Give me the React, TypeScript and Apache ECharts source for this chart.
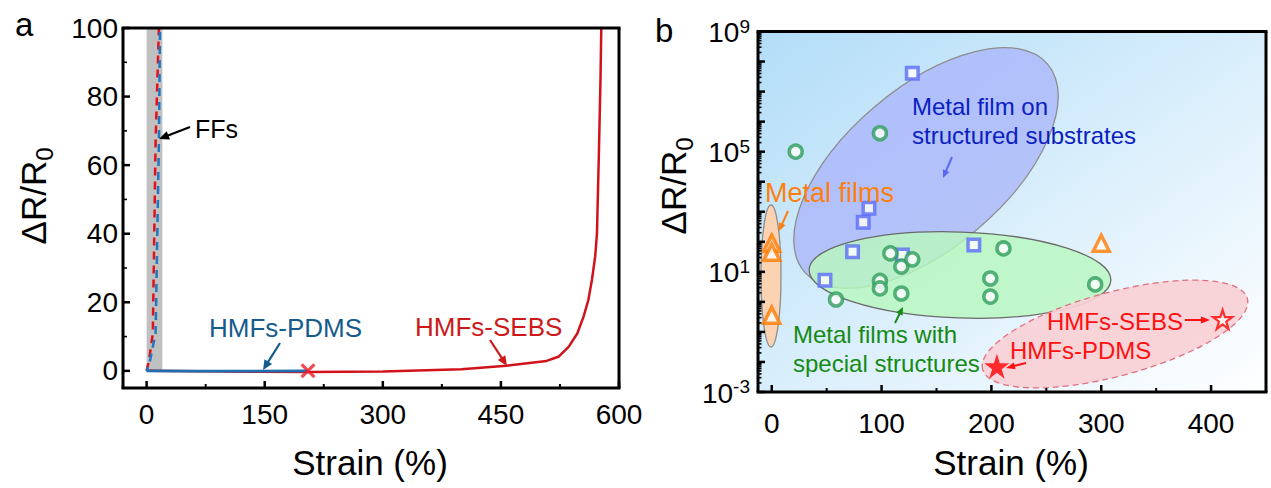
import React, { useEffect, useRef } from "react";
import * as echarts from "echarts";

const FONT = "'Liberation Sans', Arial, Helvetica, sans-serif";

// ---------- Panel a data ----------
const aXTicks = [0, 150, 300, 450, 600];
const aXMinor = [75, 225, 375, 525];
const aYTicks = [0, 20, 40, 60, 80, 100];
const aYMinor = [10, 30, 50, 70, 90];
const ffsBand = [0, 20];
const ffsSebs = [[0, 0], [3, 3], [7.9, 11], [11.4, 67], [15.6, 100]];
const ffsPdms = [[0, 0], [4, 2.6], [11.4, 11], [15.6, 67], [17, 100]];
const hmfsPdms = [[0, 0], [60, -0.1], [120, -0.1], [205, 0]];
const hmfsSebs = [
  [0, 0], [100, -0.2], [205, -0.3], [300, -0.2], [400, 0.5], [457, 1.5], [508, 2.9],
  [523, 4.1], [536, 7], [547, 10.9], [555, 15.8], [561, 20.6], [565.6, 26.5],
  [569.7, 33.3], [572, 40], [574.5, 64], [576.5, 85], [577.5, 100],
];
const pdmsBreak = [[205, 0]];

// ---------- Panel b data ----------
const bXTicks = [0, 100, 200, 300, 400];
const bXMinor = [50, 150, 250, 350];
const bYLabelExp = [-3, 1, 5, 9];
const bYDecades = [-3, -2, -1, 0, 1, 2, 3, 4, 5, 6, 7, 8, 9];
const squaresB = [[128, 4.1e7], [88.5, 1.3e3], [83.3, 450], [73.6, 47], [48.5, 5.2], [119, 36], [184, 78]];
const circlesB = [
  [21.8, 1.0e5], [98.5, 4.1e5], [108, 41], [118, 15], [128, 26], [98.5, 5.0], [98.5, 2.8],
  [118, 1.9], [58.5, 1.2], [211, 60], [199, 6.0], [199, 1.5], [294.5, 3.8],
];
const trianglesB = [[0, 89], [0, 45], [0, 0.36], [300, 89]];
const starPdms = [[205, 0.0072]];
const starSebs = [[410.5, 0.26]];

const STAR = "path://M50,0 L61.2,34.5 L97.6,34.5 L68.2,55.9 L79.4,90.5 L50,69.1 L20.6,90.5 L31.8,55.9 L2.4,34.5 L38.8,34.5 Z";
const CROSS = "path://M3,0 L10,7 L17,0 L20,3 L13,10 L20,17 L17,20 L10,13 L3,20 L0,17 L7,10 L0,3 Z";

// grid layouts (used both by ECharts grids and the frame drawing)
const GA = { left: 123, top: 28, width: 496, height: 360, xMin: -30, xMax: 600, yMin: -5, yMax: 100 };
const GB = { left: 758, top: 31.5, width: 508, height: 360.5, xMin: -12.5, xMax: 450, yMin: -3, yMax: 9 };

function arrow(x1: number, y1: number, x2: number, y2: number, color: string, lw = 2, hl = 10, hw = 4.5) {
  const dx = x2 - x1, dy = y2 - y1;
  const L = Math.hypot(dx, dy);
  const ux = dx / L, uy = dy / L;
  const bx = x2 - ux * hl, by = y2 - uy * hl;
  return [
    { type: "line", z: 20, shape: { x1, y1, x2: bx + ux, y2: by + uy }, style: { stroke: color, lineWidth: lw } },
    {
      type: "polygon", z: 20,
      shape: { points: [[x2, y2], [bx - uy * hw, by + ux * hw], [bx + uy * hw, by - ux * hw]] },
      style: { fill: color },
    },
  ];
}

function label(text: string, x: number, y: number, size: number, color: string, align = "left") {
  return {
    type: "text", x, y, z: 20,
    style: { text, fontSize: size, fontFamily: FONT, fill: color, align, verticalAlign: "middle" },
  };
}

function ellipse(cx: number, cy: number, rx: number, ry: number, deg: number, fill: string, stroke: string, dash?: number[]) {
  const style: any = { fill, stroke, lineWidth: 1.3 };
  if (dash) style.lineDash = dash;
  return {
    type: "ellipse", x: cx, y: cy, rotation: (deg * Math.PI) / 180, z: 1,
    shape: { cx: 0, cy: 0, rx, ry },
    style,
  };
}

function yTitle(x: number, y: number) {
  return {
    type: "text", x, y, rotation: Math.PI / 2, z: 20,
    style: {
      text: "{m|ΔR/R}{s|0}", align: "center", verticalAlign: "middle",
      rich: {
        m: { fontSize: 35, fontFamily: FONT, fill: "#000", lineHeight: 40, verticalAlign: "top" },
        s: { fontSize: 24, fontFamily: FONT, fill: "#000", lineHeight: 14, verticalAlign: "bottom" },
      },
    },
  };
}

function labelAxis(gridIndex: number, min: number, max: number, ticks: number[], margin: number, position: string) {
  return {
    type: "value", gridIndex, min, max, position,
    axisLine: { show: false, onZero: false }, splitLine: { show: false }, axisTick: { show: false },
    axisLabel: { customValues: ticks, fontSize: 28, fontFamily: FONT, color: "#000", margin },
  };
}

// frame + inward ticks of a plot box
function frame(G: any, xMaj: number[], xMin: number[], yMaj: number[], yMin: number[], yMinLen: number) {
  const l = G.left, t = G.top, r = G.left + G.width, b = G.top + G.height;
  const px = (v: number) => l + ((v - G.xMin) / (G.xMax - G.xMin)) * G.width;
  const py = (v: number) => b - ((v - G.yMin) / (G.yMax - G.yMin)) * G.height;
  const seg = (x1: number, y1: number, x2: number, y2: number, w: number) =>
    ({ type: "line", z: 30, shape: { x1, y1, x2, y2 }, style: { stroke: "#000", lineWidth: w } });
  const out: any[] = [
    seg(l - 1.5, b, r + 1.5, b, 3),
    seg(l - 1.5, t, r + 1.5, t, 3),
    seg(l, t, l, b, 3),
    seg(r, t, r, b, 3),
  ];
  xMaj.forEach((v) => out.push(seg(px(v), b, px(v), b - 7, 2.5)));
  xMin.forEach((v) => out.push(seg(px(v), b, px(v), b - 4, 2)));
  yMaj.forEach((v) => out.push(seg(l, py(v), l + 7, py(v), 2.5)));
  yMin.forEach((v) => out.push(seg(l, py(v), l + yMinLen, py(v), 1.6)));
  return out;
}

const logMinor: number[] = [];
for (let n = -3; n < 9; n++) for (let k = 2; k <= 9; k++) logMinor.push(n + Math.log10(k));

const toLog = (arr: number[][]) => arr.map(([x, y]) => [x, Math.log10(y)]);

export default function App() {
  const ref = useRef<HTMLDivElement>(null);
  useEffect(() => {
    if (!ref.current) return;
    const chart = echarts.init(ref.current, null, { renderer: "svg" });
    const hollow = (border: string) => ({ color: "#fff", borderColor: border, borderWidth: 3.5 });

    const graphic: any[] = [
      // panel b region ellipses
      ellipse(926, 168, 160, 80, 40.5, "rgba(168,178,250,0.72)", "#8d8d8d"),
      ellipse(960, 275, 151, 43, -2, "rgba(184,248,190,0.82)", "#6b6b6b"),
      ellipse(1115, 334, 137, 42, 15, "rgba(249,208,214,0.92)", "#e07080", [6, 4]),
      ellipse(771, 276, 10, 71, 0, "#fbd3b3", "#8d8d8d"),

      ...frame(GA, aXTicks, aXMinor, aYTicks, aYMinor, 4),
      ...frame(GB, bXTicks, bXMinor, bYDecades, logMinor, 3.5),

      // panel labels
      label("a", 15, 24, 33, "#000"),
      label("b", 655, 30, 33, "#000"),

      // axis titles
      label("Strain (%)", 370, 462, 35, "#000", "center"),
      label("Strain (%)", 1011, 462, 35, "#000", "center"),
      yTitle(36, 196),
      yTitle(676, 186),

      // panel a annotations
      label("FFs", 195, 129, 25, "#000"),
      ...arrow(190, 127, 159, 139, "#000", 2.2, 10, 4.5),
      label("HMFs-PDMS", 209, 328, 26, "#155b8c"),
      ...arrow(280, 343, 263, 370, "#155b8c", 2.2, 10, 4.5),
      label("HMFs-SEBS", 415, 327, 26, "#cc1a1a"),
      ...arrow(490, 340, 507, 366, "#cc1a1a", 2.2, 10, 4.5),

      // panel b annotations
      label("Metal film on", 912, 106, 24, "#0b20c2"),
      label("structured substrates", 912, 135, 24, "#0b20c2"),
      ...arrow(952, 157, 943, 178, "#5a6af0", 2, 8, 3.5),
      label("Metal films", 765, 193, 27, "#ff7f0e"),
      ...arrow(788, 211, 779, 231, "#ff7f0e", 2, 8, 3.5),
      label("Metal films with", 793, 334, 24, "#158a15"),
      label("special structures", 793, 363, 24, "#158a15"),
      ...arrow(895, 323, 903, 307, "#158a15", 2, 8, 3.5),
      label("HMFs-SEBS", 1047, 321, 24, "#ff1010"),
      ...arrow(1185, 320, 1210, 320, "#ff1010", 2, 9, 3.5),
      label("HMFs-PDMS", 1010, 350, 24, "#ff1010"),
      ...arrow(1026, 363, 1006, 368, "#ff1010", 2, 9, 3.5),
    ];

    const option: any = {
      animation: false,
      grid: [
        { left: GA.left, top: GA.top, width: GA.width, height: GA.height, show: false },
        {
          left: GB.left, top: GB.top, width: GB.width, height: GB.height, show: true, borderWidth: 0,
          backgroundColor: new echarts.graphic.LinearGradient(0, 0, 1, 1, [
            { offset: 0, color: "#b2ddf8" },
            { offset: 1, color: "#ffffff" },
          ]),
        },
      ],
      xAxis: [
        labelAxis(0, GA.xMin, GA.xMax, aXTicks, 12, "bottom"),
        labelAxis(1, GB.xMin, GB.xMax, bXTicks, 17, "bottom"),
      ],
      yAxis: [
        labelAxis(0, GA.yMin, GA.yMax, aYTicks, 5, "left"),
        {
          type: "value", gridIndex: 1, min: GB.yMin, max: GB.yMax, interval: 1, position: "left",
          axisLine: { show: false, onZero: false }, splitLine: { show: false }, axisTick: { show: false },
          axisLabel: {
            margin: 8,
            customValues: bYLabelExp,
            formatter: (v: number) => `{b|10}{s|${Math.round(v)}}`,
            rich: {
              b: { fontSize: 28, fontFamily: FONT, color: "#000", lineHeight: 30, verticalAlign: "bottom" },
              s: { fontSize: 19, fontFamily: FONT, color: "#000", lineHeight: 10, verticalAlign: "top" },
            },
          },
        },
      ],
      series: [
        {
          type: "line", xAxisIndex: 0, yAxisIndex: 0, data: [], z: 1,
          markArea: {
            silent: true,
            itemStyle: { color: "#c0c0c0" },
            data: [[{ coord: [ffsBand[0], 0] }, { coord: [ffsBand[1], 100] }]],
          },
        },
        { type: "line", xAxisIndex: 0, yAxisIndex: 0, data: hmfsSebs, showSymbol: false, lineStyle: { color: "#d0121b", width: 2.5 } },
        { type: "line", xAxisIndex: 0, yAxisIndex: 0, data: hmfsPdms, showSymbol: false, lineStyle: { color: "#1f6eb0", width: 2.8 } },
        { type: "line", xAxisIndex: 0, yAxisIndex: 0, data: ffsSebs, showSymbol: false, lineStyle: { color: "#e3101c", width: 2.5, type: [8, 6] } },
        { type: "line", xAxisIndex: 0, yAxisIndex: 0, data: ffsPdms, showSymbol: false, lineStyle: { color: "#1f77c4", width: 2.5, type: [8, 6], dashOffset: 4 } },
        { type: "scatter", xAxisIndex: 0, yAxisIndex: 0, data: pdmsBreak, symbol: CROSS, symbolSize: 15, itemStyle: { color: "#ee1c25" }, z: 5 },

        { type: "scatter", xAxisIndex: 1, yAxisIndex: 1, data: toLog(squaresB), symbol: "rect", symbolSize: 11.5, itemStyle: hollow("#5b6cf6"), z: 3 },
        { type: "scatter", xAxisIndex: 1, yAxisIndex: 1, data: toLog(circlesB), symbol: "circle", symbolSize: 13, itemStyle: hollow("#2e9e5b"), z: 4 },
        { type: "scatter", xAxisIndex: 1, yAxisIndex: 1, data: toLog(trianglesB), symbol: "triangle", symbolSize: 16, itemStyle: hollow("#ff7a00"), z: 4 },
        { type: "scatter", xAxisIndex: 1, yAxisIndex: 1, data: toLog(starPdms), symbol: STAR, symbolSize: 25, itemStyle: { color: "#ff0000" }, z: 5 },
        { type: "scatter", xAxisIndex: 1, yAxisIndex: 1, data: toLog(starSebs), symbol: STAR, symbolSize: 19, itemStyle: { color: "#fff", borderColor: "#ff0000", borderWidth: 2.2 }, z: 5 },
      ],
      graphic,
    };
    chart.setOption(option);
    return () => chart.dispose();
  }, []);
  return <div ref={ref} style={{ position: "absolute", left: 0, top: 0, width: 1271, height: 488, background: "#fff" }} />;
}
